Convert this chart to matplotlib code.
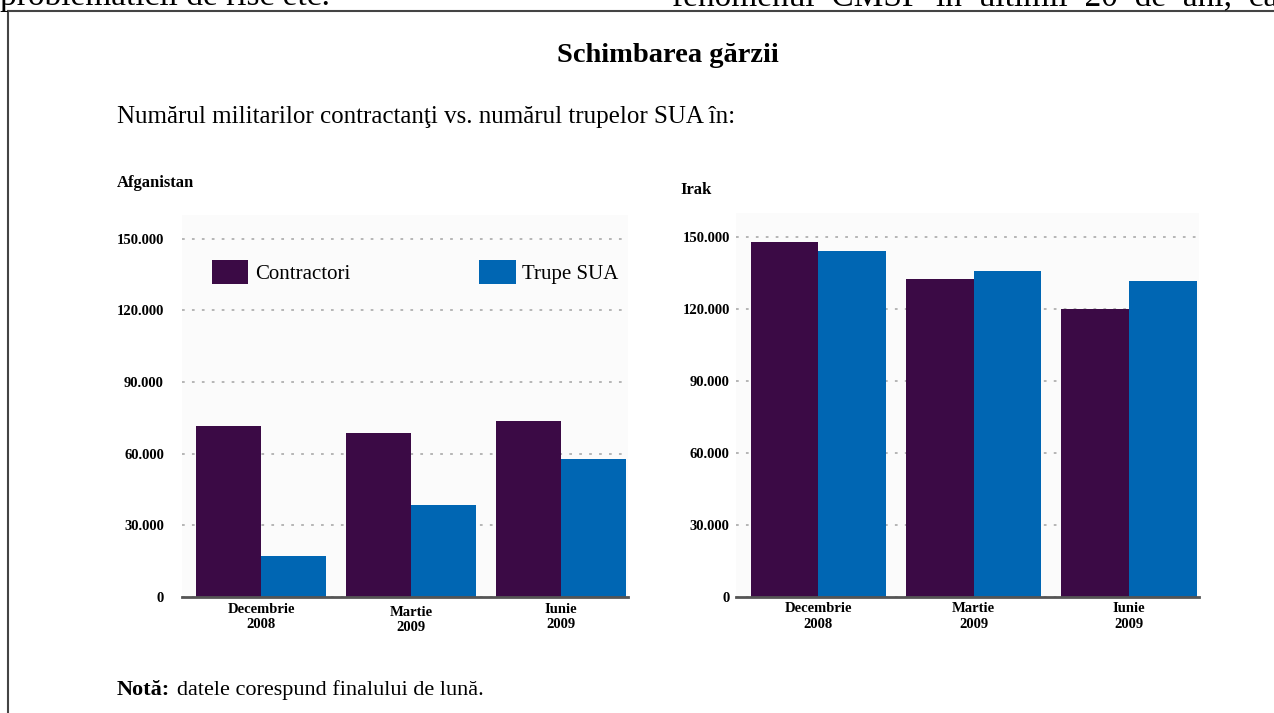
import matplotlib
matplotlib.use('Agg')
import matplotlib.pyplot as plt
import matplotlib.transforms as mtransforms
import numpy as np

plt.rcParams['font.family'] = ['Liberation Serif', 'DejaVu Serif']

# Date
categories = ['Decembrie\n2008', 'Martie\n2009', 'Iunie\n2009']
afg_contractori = [71700, 68500, 73800]
afg_trupe = [17150, 38500, 57600]
irak_contractori = [147800, 132250, 119750]
irak_trupe = [144200, 135700, 131700]
yticks = [0, 30000, 60000, 90000, 120000, 150000]
ytick_labels = ['0', '30.000', '60.000', '90.000', '120.000', '150.000']

c_purple = '#3b0a45'
c_blue = '#0066b3'

W, H = 1274, 713
fig = plt.figure(figsize=(W / 100, H / 100), dpi=100)
fig.patch.set_facecolor('white')


def fx(px):
    return px / W


def fy(py):
    return 1 - py / H


# bucati de text din pagina, taiate sus
fig.text(fx(0), fy(5), 'problematicii de risc etc.', fontsize=24, va='baseline')
fig.text(fx(672), fy(5), 'fenomenul  CMSP  în  ultimii  20  de  ani,  car',
         fontsize=24, va='baseline')

# chenar
fig.add_artist(plt.Line2D([fx(8), fx(8)], [fy(11), 0], color='#444444', lw=1.5))
fig.add_artist(plt.Line2D([fx(8), 1], [fy(11), fy(11)], color='#444444', lw=1.5))

fig.text(fx(668), fy(55), 'Schimbarea gărzii', fontsize=20.5, fontweight='bold',
         ha='center', va='center')
fig.text(fx(117), fy(117), 'Numărul militarilor contractanţi vs. numărul trupelor SUA în:',
         fontsize=18, va='center')
fig.text(fx(117), fy(183), 'Afganistan', fontsize=12, fontweight='bold', va='center')
fig.text(fx(680), fy(190), 'Irak', fontsize=12, fontweight='bold', va='center')

fig.text(fx(117), fy(690), 'Notă:', fontsize=16, fontweight='bold', va='center')
fig.text(fx(177), fy(690), 'datele corespund finalului de lună.', fontsize=16, va='center')

x = np.arange(len(categories))
w = 0.435


def draw_panel(ax, contr, trupe, pad):
    b1 = ax.bar(x - w / 2, contr, w, color=c_purple, label='Contractori', zorder=3)
    b2 = ax.bar(x + w / 2, trupe, w, color=c_blue, label='Trupe SUA', zorder=3)
    ax.set_facecolor('#fbfbfb')
    ax.set_xlim(-0.53, 2.45)
    ax.set_ylim(0, 160000)
    ax.set_yticks(yticks)
    ax.set_yticklabels(ytick_labels, fontsize=10.5, fontweight='bold')
    ax.set_xticks(x)
    ax.set_xticklabels(categories, fontsize=10.5, fontweight='bold', linespacing=1.25)
    ax.tick_params(axis='y', length=0, pad=pad)
    ax.tick_params(axis='x', length=0, pad=4)
    ax.grid(axis='y', linestyle=(0, (1.5, 4)), color='#b0b0b0', lw=1.3, zorder=1)
    for s in ['top', 'right', 'left']:
        ax.spines[s].set_visible(False)
    ax.spines['bottom'].set_color('#555555')
    ax.spines['bottom'].set_linewidth(2)
    ax.spines['bottom'].set_zorder(4)
    return b1, b2


ax1 = fig.add_axes([fx(182), fy(597), (628 - 182) / W, (597 - 214.6) / H])
h1, h2 = draw_panel(ax1, afg_contractori, afg_trupe, 13)
# eticheta "Martie" e putin mai jos in stanga
lbl = ax1.get_xticklabels()[1]
lbl.set_transform(lbl.get_transform() +
                  mtransforms.ScaledTranslation(0, -3 / 100, fig.dpi_scale_trans))

ax2 = fig.add_axes([fx(736), fy(596.7), (1199 - 736) / W, (596.7 - 212.7) / H])
draw_panel(ax2, irak_contractori, irak_trupe, 4.5)

fig.legend(handles=[h1, h2], labels=['Contractori', 'Trupe SUA'], ncol=2,
           loc='center left', bbox_to_anchor=(fx(212), fy(272)), frameon=False,
           fontsize=15, handlelength=1.75, handleheight=1.45, handletextpad=0.3,
           columnspacing=6.2, borderpad=0, borderaxespad=0)

fig.savefig('out.png', dpi=100)
